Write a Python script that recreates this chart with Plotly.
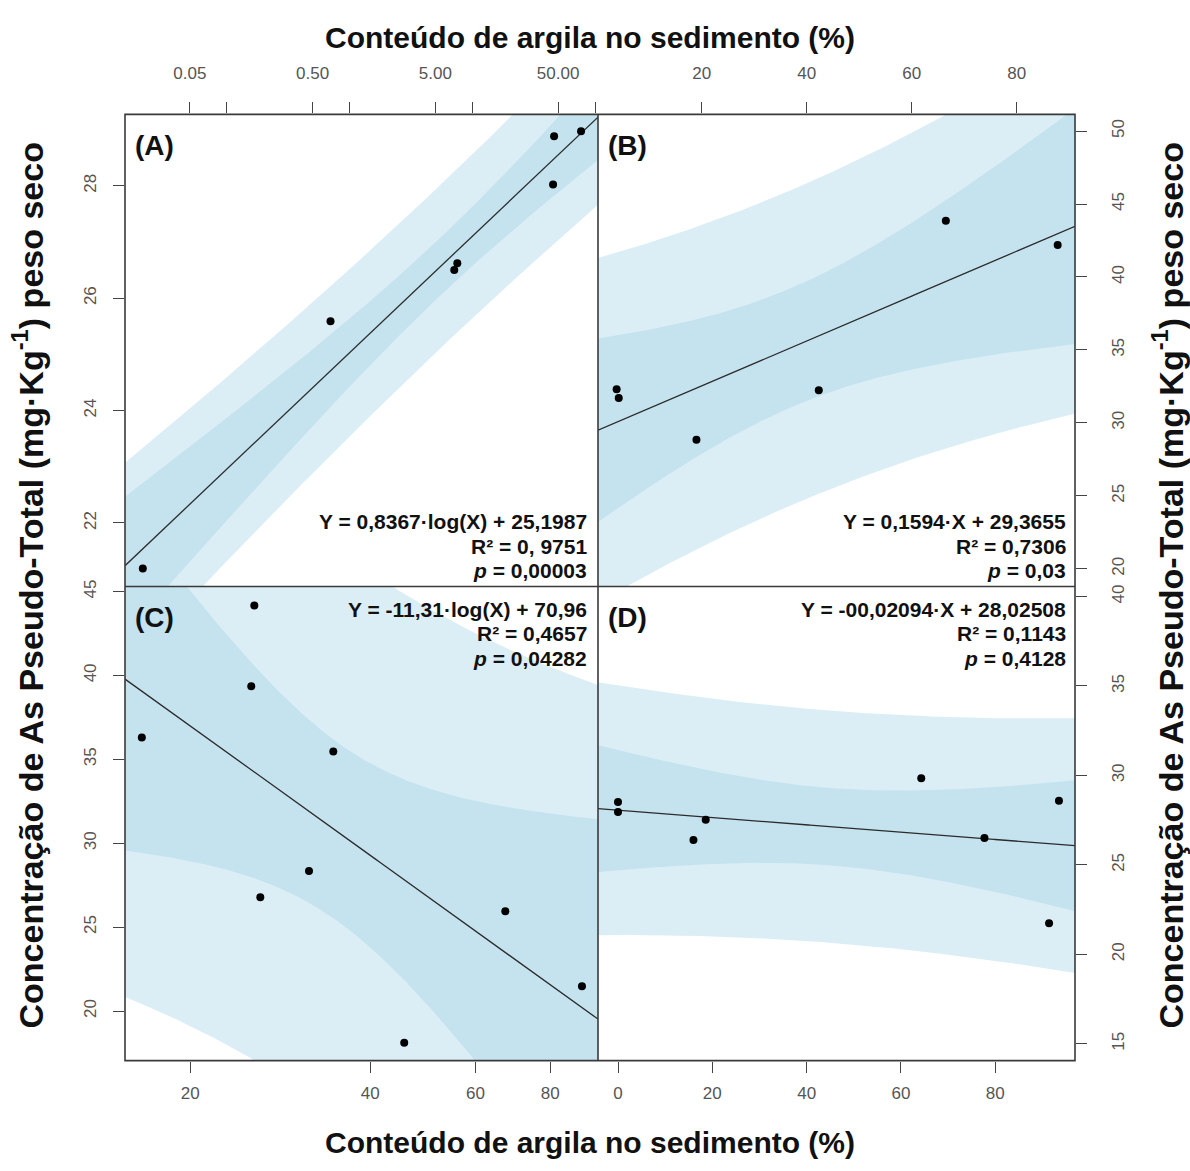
import numpy as np
import plotly.graph_objects as go

# ---------------- data ----------------
A_clay = [0.0207, 0.70, 7.13, 7.55, 46.4, 45.5, 76.9]
A_as = [21.19, 25.59, 26.50, 26.62, 28.88, 28.02, 28.97]
B_clay = [3.8, 4.2, 19.0, 42.3, 66.5, 87.8]
B_as = [32.3, 31.7, 28.85, 32.24, 43.85, 42.2]
C_clay = [16.6, 25.6, 25.3, 26.2, 34.7, 31.6, 45.6, 67.3, 90.4]
C_as = [36.3, 44.17, 39.35, 26.78, 35.47, 28.34, 18.1, 25.95, 21.48]
D_clay = [0.0, 0.0, 18.6, 16.0, 64.3, 77.7, 93.5, 91.4]
D_as = [28.52, 27.96, 27.52, 26.39, 29.85, 26.5, 28.59, 21.74]

A_text = ["Y = 0,8367·log(X) + 25,1987", "R² = 0, 9751", "<i>p</i> = 0,00003"]
B_text = ["Y = 0,1594·X + 29,3655", "R² = 0,7306", "<i>p</i> = 0,03"]
C_text = ["Y = -11,31·log(X) + 70,96", "R² = 0,4657", "<i>p</i> = 0,04282"]
D_text = ["Y = -00,02094·X + 28,02508", "R² = 0,1143", "<i>p</i> = 0,4128"]

A_xticks = [0.05, 0.5, 5, 50]
A_xticktext = ["0.05", "0.50", "5.00", "50.00"]
A_xminor = [0.1, 1, 10, 100]
A_yticks = [22, 24, 26, 28]
B_xticks = [20, 40, 60, 80]
B_yticks = [20, 25, 30, 35, 40, 45, 50]
C_xticks = [20, 40, 60, 80]
C_yticks = [20, 25, 30, 35, 40, 45]
D_xticks = [0, 20, 40, 60, 80]
D_yticks = [15, 20, 25, 30, 35, 40]

x_title = "Conteúdo de argila no sedimento (%)"
y_title = "Concentração de As Pseudo-Total (mg·Kg<sup>-1</sup>) peso seco"

T975 = {4: 2.776, 5: 2.571, 6: 2.447, 7: 2.365}

W, H = 1190, 1171
LIGHT = "rgb(219,238,245)"
DARK = "rgb(196,227,238)"
INK = "#2b2b2b"
FRAME = "#3a3a3a"

# panel geometry in pixels
XL, XM, XR = 125, 598, 1075
YT, YM, YB = 108, 583, 1060

def px(x):
    return x / W

def py(y):
    return 1 - y / H

panels = [
    ("A", A_clay, A_as, True, [-1.829, 2.024], [20.87, 29.27]),
    ("B", B_clay, B_as, False, [0.25, 91.1], [18.78, 51.15]),
    ("C", C_clay, C_as, True, [1.192, 1.983], [17.04, 45.3]),
    ("D", D_clay, D_as, False, [-4.24, 96.9], [14.06, 40.56]),
]

fig = go.Figure()
for i, (name, xs, ys, islog, xr, yr) in enumerate(panels):
    sfx = "" if i == 0 else str(i + 1)
    xa, ya = "x" + sfx, "y" + sfx
    x = np.array(xs, float)
    y = np.array(ys, float)
    u = np.log10(x) if islog else x
    n = len(u)
    um, ym = u.mean(), y.mean()
    sxx = ((u - um) ** 2).sum()
    b = ((u - um) * (y - ym)).sum() / sxx
    a = ym - b * um
    res = y - (a + b * u)
    s = np.sqrt((res ** 2).sum() / (n - 2))
    t = T975[n - 2]
    g = np.linspace(xr[0], xr[1], 300)
    yh = a + b * g
    ci = t * s * np.sqrt(1 / n + (g - um) ** 2 / sxx)
    pi = t * s * np.sqrt(1 + 1 / n + (g - um) ** 2 / sxx)
    gx = 10 ** g if islog else g
    polyx = np.concatenate([gx, gx[::-1]])
    fig.add_trace(go.Scatter(x=polyx, y=np.concatenate([yh + pi, (yh - pi)[::-1]]),
                             fill="toself", fillcolor=LIGHT, line=dict(width=0),
                             mode="lines", hoverinfo="skip", showlegend=False,
                             xaxis=xa, yaxis=ya))
    fig.add_trace(go.Scatter(x=polyx, y=np.concatenate([yh + ci, (yh - ci)[::-1]]),
                             fill="toself", fillcolor=DARK, line=dict(width=0),
                             mode="lines", hoverinfo="skip", showlegend=False,
                             xaxis=xa, yaxis=ya))
    fig.add_trace(go.Scatter(x=gx, y=yh, mode="lines", line=dict(color=INK, width=1.3),
                             showlegend=False, xaxis=xa, yaxis=ya))
    fig.add_trace(go.Scatter(x=x, y=y, mode="markers",
                             marker=dict(color="black", size=8),
                             showlegend=False, xaxis=xa, yaxis=ya))

tickfont = dict(family="Liberation Sans, Arial", size=17, color="#555")
common = dict(showgrid=False, zeroline=False, showline=False,
              ticks="outside", ticklen=11,
              tickcolor="#444", tickwidth=1.2, tickfont=tickfont)

dx_left = [px(XL), px(XM)]
dx_right = [px(XM), px(XR)]
dy_top = [py(YM), py(YT)]
dy_bot = [py(YB), py(YM)]

fig.update_layout(
    width=W, height=H, margin=dict(l=0, r=0, t=0, b=0),
    plot_bgcolor="white", paper_bgcolor="white", showlegend=False,
    xaxis=dict(domain=dx_left, anchor="y", side="top", type="log",
               range=panels[0][4], tickvals=A_xticks, ticktext=A_xticktext,
               minor=dict(tickmode="array", tickvals=A_xminor, ticks="outside",
                          ticklen=11, tickcolor="#444", tickwidth=1.2),
               ticklabelstandoff=17, **common),
    yaxis=dict(domain=dy_top, anchor="x", side="left", range=panels[0][5],
               tickvals=A_yticks, tickangle=-90, ticklabelstandoff=10, **common),
    xaxis2=dict(domain=dx_right, anchor="y2", side="top", range=panels[1][4],
                tickvals=B_xticks, ticklabelstandoff=17, **common),
    yaxis2=dict(domain=dy_top, anchor="x2", side="right", range=panels[1][5],
                tickvals=B_yticks, tickangle=-90, ticklabelstandoff=17, **common),
    xaxis3=dict(domain=dx_left, anchor="y3", side="bottom", type="log",
                range=panels[2][4], tickvals=C_xticks, ticklabelstandoff=6, **common),
    yaxis3=dict(domain=dy_bot, anchor="x3", side="left", range=panels[2][5],
                tickvals=C_yticks, tickangle=-90, ticklabelstandoff=10, **common),
    xaxis4=dict(domain=dx_right, anchor="y4", side="bottom", range=panels[3][4],
                tickvals=D_xticks, ticklabelstandoff=6, **common),
    yaxis4=dict(domain=dy_bot, anchor="x4", side="right", range=panels[3][5],
                tickvals=D_yticks, tickangle=-90, ticklabelstandoff=17, **common),
)

# panel frames
shapes = [
    dict(type="rect", xref="paper", yref="paper", x0=px(XL), x1=px(XR), y0=py(YB), y1=py(YT),
         line=dict(color=FRAME, width=1.6), layer="above"),
    dict(type="line", xref="paper", yref="paper", x0=px(XM), x1=px(XM), y0=py(YB), y1=py(YT),
         line=dict(color=FRAME, width=1.6), layer="above"),
    dict(type="line", xref="paper", yref="paper", x0=px(XL), x1=px(XR), y0=py(YM), y1=py(YM),
         line=dict(color=FRAME, width=1.6), layer="above"),
]

ann = []
xtfont = dict(family="Liberation Sans, Arial", size=30, color="#111")
ytfont = dict(family="Liberation Sans, Arial", size=34, color="#111")
ann.append(dict(x=px(590), y=py(31), xref="paper", yref="paper", text="<b>" + x_title + "</b>",
                showarrow=False, font=xtfont, xanchor="center", yanchor="middle"))
ann.append(dict(x=px(590), y=py(1142), xref="paper", yref="paper", text="<b>" + x_title + "</b>",
                showarrow=False, font=xtfont, xanchor="center", yanchor="middle"))
ann.append(dict(x=px(28), y=py(582), xref="paper", yref="paper", text="<b>" + y_title + "</b>",
                showarrow=False, font=ytfont, textangle=-90, xanchor="center", yanchor="middle"))
ann.append(dict(x=px(1168), y=py(582), xref="paper", yref="paper", text="<b>" + y_title + "</b>",
                showarrow=False, font=ytfont, textangle=-90, xanchor="center", yanchor="middle"))

lfont = dict(family="Liberation Sans, Arial", size=28, color="#111")
for lab, lx, ly in [("(A)", 133, 139), ("(B)", 606, 139), ("(C)", 133, 614), ("(D)", 606, 614)]:
    ann.append(dict(x=px(lx), y=py(ly), xref="paper", yref="paper", text="<b>" + lab + "</b>",
                    showarrow=False, font=lfont, xanchor="left", yanchor="middle"))

efont = dict(family="Liberation Sans, Arial", size=21, color="#111")
for lines, rx, ys0 in [(A_text, 589, 518), (B_text, 1068, 518), (C_text, 589, 606), (D_text, 1068, 606)]:
    for k, line in enumerate(lines):
        ann.append(dict(x=px(rx), y=py(ys0 + 24.5 * k), xref="paper", yref="paper",
                        text="<b>" + line + "</b>", showarrow=False, font=efont,
                        xanchor="right", yanchor="middle"))

fig.update_layout(annotations=ann, shapes=shapes)
fig.write_html("out.html")
